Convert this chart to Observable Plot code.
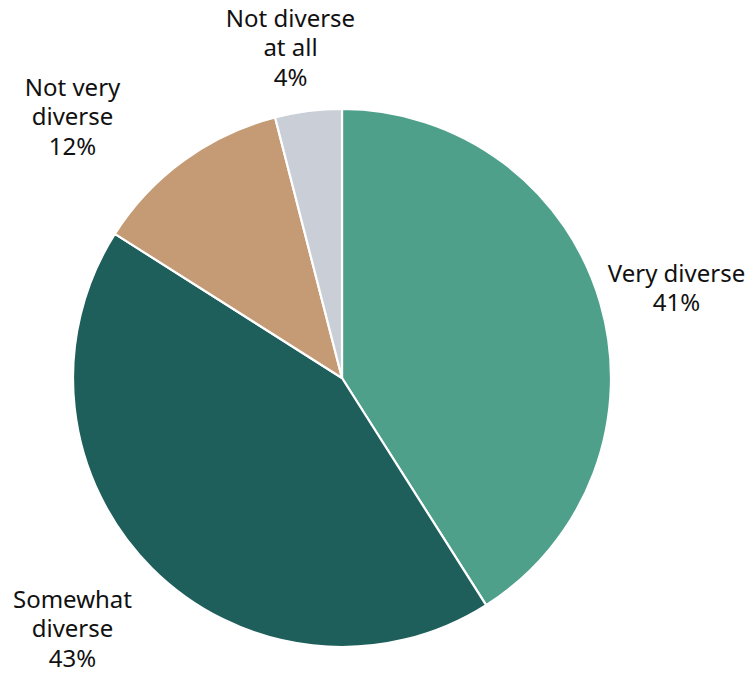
<!DOCTYPE html>
<html>
<head>
<meta charset="utf-8">
<script src="https://cdn.jsdelivr.net/npm/d3@7"></script>
<script src="https://cdn.jsdelivr.net/npm/@observablehq/plot@0.6"></script>
<style>
  html, body { margin: 0; padding: 0; background: #fff; }
  #chart { width: 753px; height: 674px; }
</style>
</head>
<body>
<div id="chart"></div>
<script>
// ---- data ----
const categories = ["Very diverse", "Somewhat diverse", "Not very diverse", "Not diverse at all"];
const values = [41, 43, 12, 4];
const labelLines = [["Very diverse"], ["Somewhat", "diverse"], ["Not very", "diverse"], ["Not diverse", "at all"]];
const colors = ["#4ea08b", "#1e5e5b", "#c49b74", "#c9ced7"];

// ---- layout ----
const W = 753, H = 674;
const cx = 342, cy = 378, R = 269;
const fontSize = 24;
const lineH = 29.5;
// center of each label block
const labelAnchor = [[676, 286.5], [72, 627.5], [72, 115.5], [290, 46.5]];

const data = categories.map((c, i) => ({category: c, value: values[i], color: colors[i]}));
const pie = d3.pie().sort(null).value(d => d.value)(data);
const arcGen = d3.arc().innerRadius(0).outerRadius(R);

const labels = categories.map((c, i) => ({
  text: [...labelLines[i], values[i] + "%"].join("\n"),
  x: labelAnchor[i][0],
  y: labelAnchor[i][1]
}));

const pieMark = (index, scales) => {
  const g = d3.create("svg:g")
    .attr("transform", `translate(${scales.x(cx)},${scales.y(cy)})`);
  g.selectAll("path").data(pie).join("path")
    .attr("d", arcGen)
    .attr("fill", d => d.data.color)
    .attr("stroke", "#fff")
    .attr("stroke-width", 2.2)
    .attr("stroke-linejoin", "round");
  return g.node();
};

const chart = Plot.plot({
  width: W, height: H,
  margin: 0,
  x: {domain: [0, W], range: [0, W], axis: null},
  y: {domain: [0, H], range: [0, H], axis: null},
  style: {fontFamily: "'Noto Sans', 'DejaVu Sans', sans-serif", background: "#fff"},
  marks: [
    pieMark,
    Plot.text(labels, {x: "x", y: "y", text: "text", fontSize, lineHeight: lineH / fontSize,
      fill: "#111", textAnchor: "middle", lineAnchor: "middle"})
  ]
});
document.getElementById("chart").append(chart);
</script>
</body>
</html>
